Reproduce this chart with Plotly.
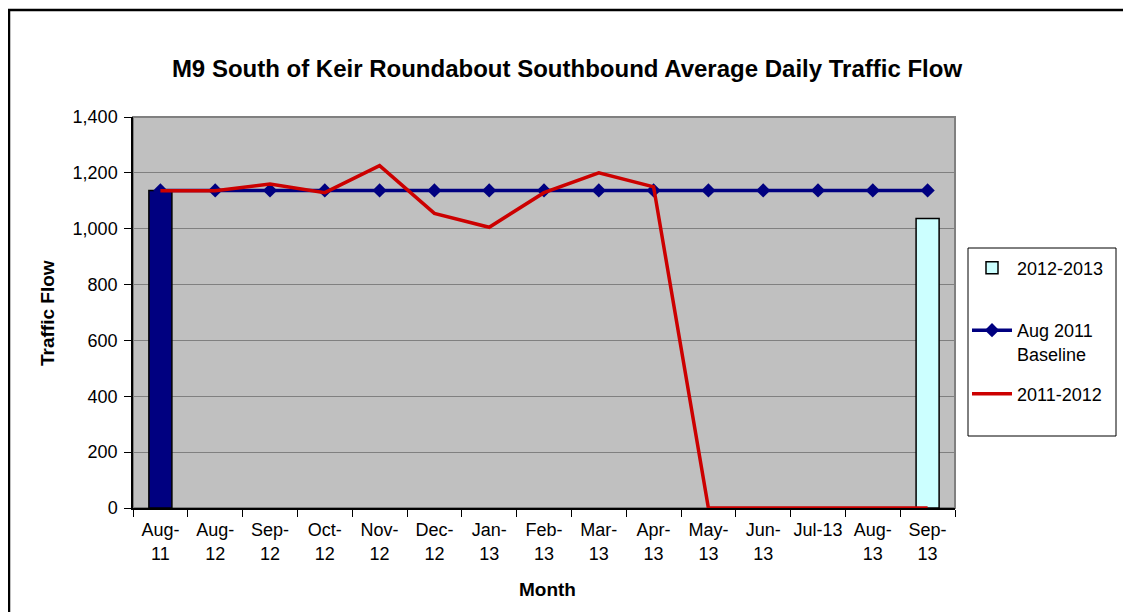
import plotly.graph_objects as go

categories = ["Aug-11", "Aug-12", "Sep-12", "Oct-12", "Nov-12", "Dec-12", "Jan-13",
              "Feb-13", "Mar-13", "Apr-13", "May-13", "Jun-13", "Jul-13", "Aug-13", "Sep-13"]
tick_labels = ["Aug-<br>11", "Aug-<br>12", "Sep-<br>12", "Oct-<br>12", "Nov-<br>12", "Dec-<br>12",
               "Jan-<br>13", "Feb-<br>13", "Mar-<br>13", "Apr-<br>13", "May-<br>13", "Jun-<br>13",
               "Jul-13<br> ", "Aug-<br>13", "Sep-<br>13"]
series_2012_2013 = [1137, None, None, None, None, None, None, None, None, None, None, None, None, None, 1037]
bar_colors = ["#000080"] + ["#CCFFFF"] * 14
baseline_aug2011 = [1137] * 15
series_2011_2012 = [1136, 1136, 1160, 1129, 1226, 1055, 1005, 1129, 1200, 1150, 0, 0, 0, 0, 0]

OFF = 8  # page body margin
W, H = 1131 - OFF, 612 - OFF
# plot area in window pixel coordinates
L, R, T, B = 133, 955, 117, 508
pw, ph = R - L, B - T


def px(x):
    return (x - L) / pw


def py(y):
    return (B - y) / ph


FONT = "Liberation Sans, Arial, sans-serif"

fig = go.Figure()
# bar data given in reverse order so the legend swatch takes the light-cyan colour
fig.add_trace(go.Bar(
    x=categories[::-1], y=series_2012_2013[::-1], name="2012-2013",
    marker=dict(color=bar_colors[::-1], line=dict(color="black", width=1.5)),
    width=0.42, legend="legend",
))
fig.add_trace(go.Scatter(
    x=categories, y=baseline_aug2011, name="Aug 2011<br>Baseline", mode="lines+markers",
    line=dict(color="#000080", width=3.5), marker=dict(symbol="diamond", size=11, color="#000080"),
    legend="legend2",
))
fig.add_trace(go.Scatter(
    x=categories, y=series_2011_2012, name="2011-2012", mode="lines",
    line=dict(color="#CC0000", width=3.5), legend="legend3",
))

shapes = [
    dict(type="rect", xref="paper", yref="paper", x0=0, x1=1, y0=0, y1=1,
         line=dict(color="#808080", width=2), layer="below"),
    dict(type="rect", xref="paper", yref="paper", x0=px(968), x1=px(1116), y0=py(248), y1=py(436),
         line=dict(color="black", width=1)),
    dict(type="rect", xref="paper", yref="paper", x0=px(9), x1=px(1125), y0=py(10), y1=py(640),
         line=dict(color="black", width=2.5)),
]

legend_common = dict(xanchor="left", yanchor="middle", bgcolor="rgba(0,0,0,0)", borderwidth=0,
                     font=dict(family=FONT, size=18, color="black"), itemwidth=40, valign="top")
LX = px(967)

fig.update_layout(
    width=W, height=H,
    margin=dict(l=L - OFF, r=W - (R - OFF), t=T - OFF, b=H - (B - OFF), pad=0),
    paper_bgcolor="white", plot_bgcolor="#C0C0C0",
    font=dict(family=FONT, size=18, color="black"),
    title=dict(text="<b>M9 South of Keir Roundabout Southbound Average Daily Traffic Flow</b>",
               x=(567 - OFF) / W, xref="container", xanchor="center",
               y=1 - (69 - OFF) / H, yref="container", yanchor="middle",
               font=dict(family=FONT, size=24, color="black")),
    showlegend=True,
    legend=dict(x=LX, y=py(268), **legend_common),
    legend2=dict(x=LX, y=py(342), **legend_common),
    legend3=dict(x=LX, y=py(394), **legend_common),
    shapes=shapes,
    annotations=[
        dict(text="<b>Traffic Flow</b>", xref="paper", yref="paper", x=px(47), y=py(313),
             textangle=-90, showarrow=False, xanchor="center", yanchor="middle",
             font=dict(family=FONT, size=19, color="black")),
        dict(text="<b>Month</b>", xref="paper", yref="paper", x=px(547), y=py(589),
             showarrow=False, xanchor="center", yanchor="middle",
             font=dict(family=FONT, size=19, color="black")),
    ],
)

fig.update_xaxes(
    type="category", categoryorder="array", categoryarray=categories,
    range=[-0.5, len(categories) - 0.5],
    tickmode="array", tickvals=categories, ticktext=tick_labels, tickangle=0,
    tickson="boundaries", ticks="outside", ticklen=7, tickwidth=1, tickcolor="black",
    showline=True, linecolor="black", linewidth=1.5, showgrid=False, zeroline=False,
    ticklabelstandoff=5,
    tickfont=dict(family=FONT, size=18, color="black"),
)
fig.update_yaxes(
    range=[0, 1400], dtick=200, tickformat=",", ticks="outside", ticklen=7, tickwidth=1,
    tickcolor="black", showline=True, linecolor="black", linewidth=1.5,
    showgrid=True, gridcolor="#808080", gridwidth=1, zeroline=False, ticklabelstandoff=3,
    tickfont=dict(family=FONT, size=18, color="black"),
)

fig.write_html("out.html")
